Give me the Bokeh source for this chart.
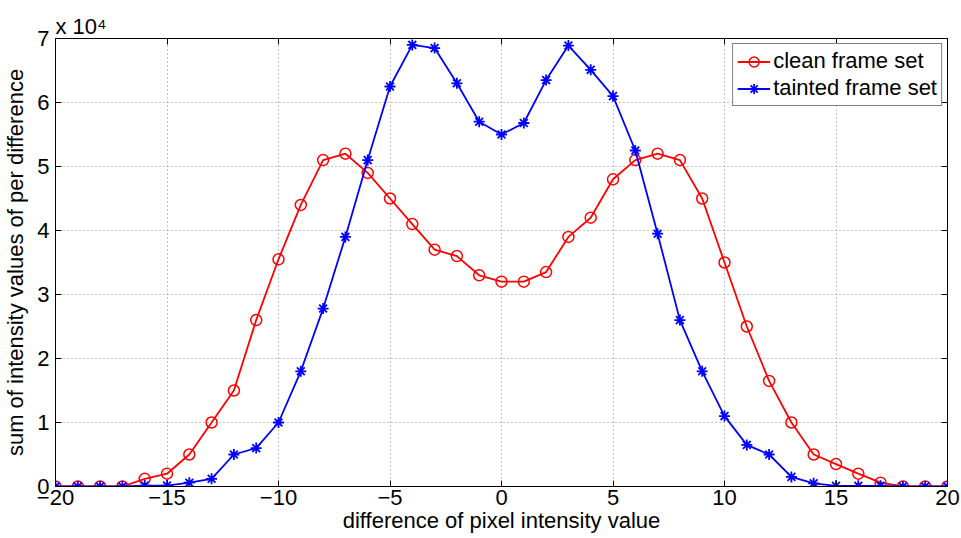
from bokeh.plotting import figure
from bokeh.models import LinearAxis, FixedTicker, Legend, LegendItem
from bokeh.embed import file_html
from bokeh.resources import INLINE

x_vals = list(range(-20, 21))
clean = [0, 0, 0, 0, 1200, 2000, 5000, 10000, 15000, 26000, 35500, 44000, 51000, 52000,
         49000, 45000, 41000, 37000, 36000, 33000, 32000, 32000, 33500, 39000, 42000, 48000,
         51000, 52000, 51000, 45000, 35000, 25000, 16500, 10000, 5000, 3500, 2000, 600, 0, 0, 0]
tainted = [0, 0, 0, 0, 150, 150, 600, 1200, 5000, 6000, 10000, 18000, 27800, 39000,
           51000, 62500, 69000, 68500, 63000, 57000, 55000, 56800, 63500, 68900, 65100, 61000,
           52500, 39500, 26000, 18000, 11000, 6500, 5000, 1500, 500, 100, 100, 100, 0, 0, 0]
x_ticks = [-20, -15, -10, -5, 0, 5, 10, 15, 20]
x_tick_labels = ["\u221220", "\u221215", "\u221210", "\u22125", "0", "5", "10", "15", "20"]
y_ticks = [0, 10000, 20000, 30000, 40000, 50000, 60000, 70000]
y_tick_labels = ["0", "1", "2", "3", "4", "5", "6", "7"]
scale_text = "x 10\u2074"
series_names = ["clean frame set", "tainted frame set"]
x_label = "difference of pixel intensity value"
y_label = "sum of intensity values of per difference"

FONT = "Liberation Sans"

p = figure(width=961, height=538, output_backend="svg", toolbar_location=None,
           x_range=(-20, 20), y_range=(0, 70000),
           min_border_left=53, min_border_right=14, min_border_top=38, min_border_bottom=52,
           x_axis_location=None, y_axis_location=None)
p.outline_line_color = "black"
p.outline_line_width = 1
p.background_fill_color = "white"

p.title.text = scale_text
p.title.align = "left"
p.title.text_font = FONT
p.title.text_font_size = "22px"
p.title.text_font_style = "normal"
p.title.text_color = "black"
p.title.standoff = 0
p.title.offset = 0

def style_axis(ax, ticks, labels, show_labels=True, axis_label=None):
    ax.ticker = FixedTicker(ticks=ticks)
    ax.major_tick_in = 6
    ax.major_tick_out = 0
    ax.minor_tick_in = 0
    ax.minor_tick_out = 0
    ax.axis_line_color = "black"
    ax.major_tick_line_color = "black"
    if show_labels:
        ax.major_label_overrides = {t: l for t, l in zip(ticks, labels)}
        ax.major_label_text_font = FONT
        ax.major_label_text_font_size = "22px"
        ax.major_label_text_color = "black"
    else:
        ax.major_label_text_font_size = "1px"
        ax.major_label_text_color = None
        ax.major_label_standoff = 0
    if axis_label:
        ax.axis_label = axis_label
        ax.axis_label_text_font = FONT
        ax.axis_label_text_font_size = "22px"
        ax.axis_label_text_font_style = "normal"
        ax.axis_label_text_color = "black"

bottom = LinearAxis()
style_axis(bottom, x_ticks, x_tick_labels, True, x_label)
bottom.major_label_standoff = 3
bottom.axis_label_standoff = 0
p.add_layout(bottom, "below")

left = LinearAxis()
style_axis(left, y_ticks, y_tick_labels, True, y_label)
left.major_label_standoff = 6
left.axis_label_standoff = 6
p.add_layout(left, "left")

right = LinearAxis()
style_axis(right, y_ticks, y_tick_labels, False)
p.add_layout(right, "right")

top = LinearAxis()
style_axis(top, x_ticks, x_tick_labels, False)
p.add_layout(top, "above")

p.xgrid.ticker = FixedTicker(ticks=x_ticks)
p.ygrid.ticker = FixedTicker(ticks=y_ticks)
for g in (p.xgrid, p.ygrid):
    g.grid_line_color = "#888888"
    g.grid_line_dash = "1 3"
    g.grid_line_width = 1

l1 = p.line(x_vals, clean, line_color="red", line_width=1.8)
s1 = p.scatter(x_vals, clean, marker="circle", size=11, fill_color=None,
               line_color="red", line_width=1.5)
l2 = p.line(x_vals, tainted, line_color="blue", line_width=1.8)
s2 = p.scatter(x_vals, tainted, marker="asterisk", size=11,
               line_color="blue", line_width=1.8)

legend = Legend(items=[LegendItem(label=series_names[0], renderers=[l1, s1]),
                       LegendItem(label=series_names[1], renderers=[l2, s2])],
                location="top_right")
legend.margin = 5
legend.padding = 4
legend.spacing = 1
legend.glyph_width = 33
legend.glyph_height = 25
legend.label_height = 25
legend.label_standoff = 3
legend.label_text_font = FONT
legend.label_text_font_size = "22px"
legend.label_text_color = "black"
legend.border_line_color = "black"
legend.border_line_width = 1
legend.background_fill_alpha = 1
p.add_layout(legend, "center")

open("out.html", "w").write(file_html(p, INLINE))
